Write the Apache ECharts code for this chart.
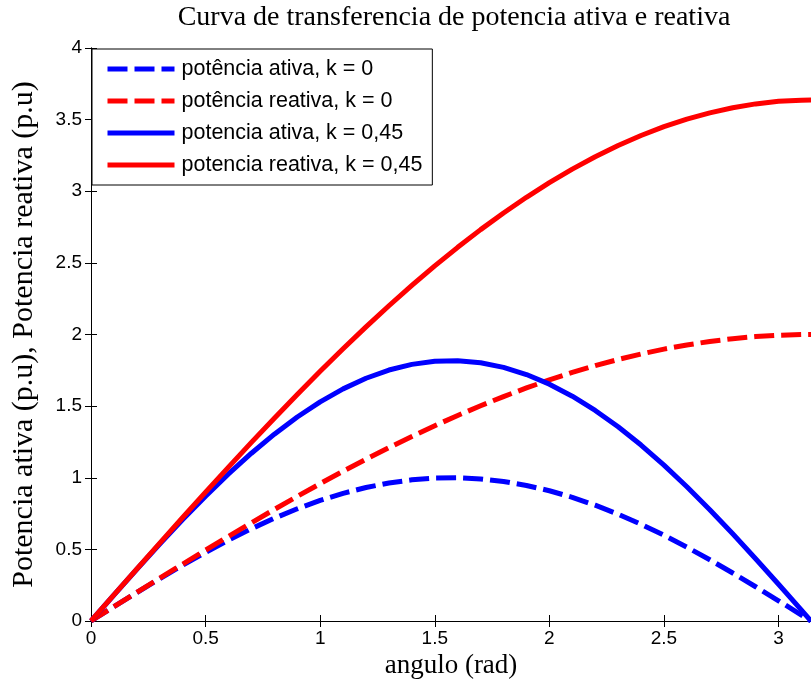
<!DOCTYPE html>
<html>
<head>
<meta charset="utf-8">
<script src="https://cdn.jsdelivr.net/npm/echarts@6/dist/echarts.min.js"></script>
<style>
html,body{margin:0;padding:0;background:#fff;}
#chart{width:811px;height:689px;}
</style>
</head>
<body>
<div id="chart"></div>
<script>
// angle samples (rad)
const angles = [0, 0.1, 0.2, 0.3, 0.4, 0.5, 0.6, 0.7, 0.8, 0.9, 1.0, 1.1, 1.2, 1.3, 1.4, 1.5, 1.6,
  1.7, 1.8, 1.9, 2.0, 2.1, 2.2, 2.3, 2.4, 2.5, 2.6, 2.7, 2.8, 2.9, 3.0, 3.1, 3.1416];
// potência ativa, k = 0
const pAtiva0 = [0, 0.0998, 0.1987, 0.2955, 0.3894, 0.4794, 0.5646, 0.6442, 0.7174, 0.7833, 0.8415,
  0.8912, 0.9320, 0.9636, 0.9854, 0.9975, 0.9996, 0.9917, 0.9738, 0.9463, 0.9093, 0.8632, 0.8085,
  0.7457, 0.6755, 0.5985, 0.5155, 0.4274, 0.3350, 0.2392, 0.1411, 0.0416, 0];
// potência reativa, k = 0
const qReativa0 = [0, 0.1000, 0.1997, 0.2989, 0.3973, 0.4948, 0.5910, 0.6857, 0.7788, 0.8699, 0.9589,
  1.0453, 1.1293, 1.2104, 1.2884, 1.3633, 1.4347, 1.5026, 1.5667, 1.6268, 1.6829, 1.7349, 1.7824,
  1.8257, 1.8641, 1.8980, 1.9271, 1.9515, 1.9708, 1.9854, 1.9950, 1.9996, 2.0];
// potencia ativa, k = 0,45
const pAtiva45 = [0, 0.1815, 0.3613, 0.5373, 0.7080, 0.8716, 1.0265, 1.1713, 1.3044, 1.4242, 1.5300,
  1.6204, 1.6945, 1.7520, 1.7916, 1.8136, 1.8175, 1.8031, 1.7705, 1.7205, 1.6533, 1.5695, 1.4700,
  1.3558, 1.2282, 1.0882, 0.9373, 0.7771, 0.6091, 0.4349, 0.2565, 0.0756, 0];
// potencia reativa, k = 0,45
const qReativa45 = [0, 0.1818, 0.3631, 0.5435, 0.7224, 0.8996, 1.0745, 1.2467, 1.4160, 1.5816, 1.7435,
  1.9005, 2.0533, 2.2007, 2.3425, 2.4787, 2.6085, 2.7320, 2.8485, 2.9578, 3.0598, 3.1544, 3.2407,
  3.3193, 3.3893, 3.4509, 3.5038, 3.5475, 3.5829, 3.6098, 3.6276, 3.6356, 3.6364];

const seriesNames = ['potência ativa, k = 0', 'potência reativa, k = 0', 'potencia ativa, k = 0,45', 'potencia reativa, k = 0,45'];
const titleText = 'Curva de transferencia de potencia ativa e reativa';
const xName = 'angulo (rad)';
const yName = 'Potencia ativa (p.u), Potencia reativa (p.u)';

const pairs = ys => angles.map((x, i) => [x, ys[i]]);

const chart = echarts.init(document.getElementById('chart'), null, {renderer: 'canvas'});
const tickFont = {fontFamily: 'Liberation Sans', fontSize: 19, color: '#000'};
const serif = 'Liberation Serif';

function mkLine(name, data, color, dashed) {
  return {
    name, type: 'line', data, symbol: 'none', smooth: false, legendIcon: 'rect',
    lineStyle: {color, width: 5, type: dashed ? [20, 7] : 'solid', cap: 'butt', join: 'round'},
    itemStyle: {color},
    emphasis: {disabled: true}, animation: false, clip: true,
    z: dashed ? 2 : 3
  };
}

chart.setOption({
  animation: false,
  backgroundColor: '#fff',
  title: {
    text: titleText, left: 454, top: 4, padding: 0, textAlign: 'center',
    textStyle: {fontFamily: serif, fontSize: 28, fontWeight: 'normal', color: '#000'}
  },
  grid: {left: 91, top: 48, width: 721, height: 573, containLabel: false},
  legend: {
    orient: 'vertical', left: 92, top: 49,
    padding: [9, 10, 9, 13],
    itemWidth: 67, itemHeight: 20, itemGap: 10,
    backgroundColor: '#fff', borderColor: '#000', borderWidth: 1,
    itemStyle: {opacity: 0, borderWidth: 0},
    lineStyle: {width: 5, cap: 'butt'},
    textStyle: {fontFamily: 'Liberation Sans', fontSize: 21.5, lineHeight: 21, color: '#000', padding: [0, 0, 0, 2]},
    data: seriesNames
  },
  xAxis: [{
    type: 'value', min: 0, max: 3.1416, interval: 0.5,
    name: xName, nameLocation: 'middle', nameGap: 19,
    nameTextStyle: {fontFamily: serif, fontSize: 27, color: '#000', verticalAlign: 'top'},
    axisLine: {show: true, lineStyle: {color: '#000', width: 1}},
    axisTick: {show: true, inside: true, length: 6, lineStyle: {color: '#000'}},
    axisLabel: Object.assign({margin: 8, showMaxLabel: false,
      formatter: v => (Math.abs(v * 2 - Math.round(v * 2)) < 1e-6 ? String(Math.round(v * 2) / 2) : '')}, tickFont),
    splitLine: {show: false}
  }, {
    type: 'value', position: 'top', min: 0, max: 3.1416, interval: 0.5,
    axisLine: {show: true, lineStyle: {color: '#000', width: 1}},
    axisTick: {show: true, inside: true, length: 6, lineStyle: {color: '#000'}},
    axisLabel: {show: false}, splitLine: {show: false}
  }],
  yAxis: [{
    type: 'value', min: 0, max: 4, interval: 0.5,
    name: yName, nameLocation: 'middle', nameGap: 52, nameRotate: 90,
    nameTextStyle: {fontFamily: serif, fontSize: 30, color: '#000'},
    axisLine: {show: true, lineStyle: {color: '#000', width: 1}},
    axisTick: {show: true, inside: true, length: 6, lineStyle: {color: '#000'}},
    axisLabel: Object.assign({margin: 9}, tickFont),
    splitLine: {show: false}
  }, {
    type: 'value', position: 'right', min: 0, max: 4, interval: 0.5,
    axisLine: {show: true, lineStyle: {color: '#000', width: 1}},
    axisTick: {show: true, inside: true, length: 6, lineStyle: {color: '#000'}},
    axisLabel: {show: false}, splitLine: {show: false}
  }],
  series: [
    mkLine(seriesNames[0], pairs(pAtiva0), '#0000ff', true),
    mkLine(seriesNames[1], pairs(qReativa0), '#ff0000', true),
    mkLine(seriesNames[2], pairs(pAtiva45), '#0000ff', false),
    mkLine(seriesNames[3], pairs(qReativa45), '#ff0000', false)
  ]
});
</script>
</body>
</html>
